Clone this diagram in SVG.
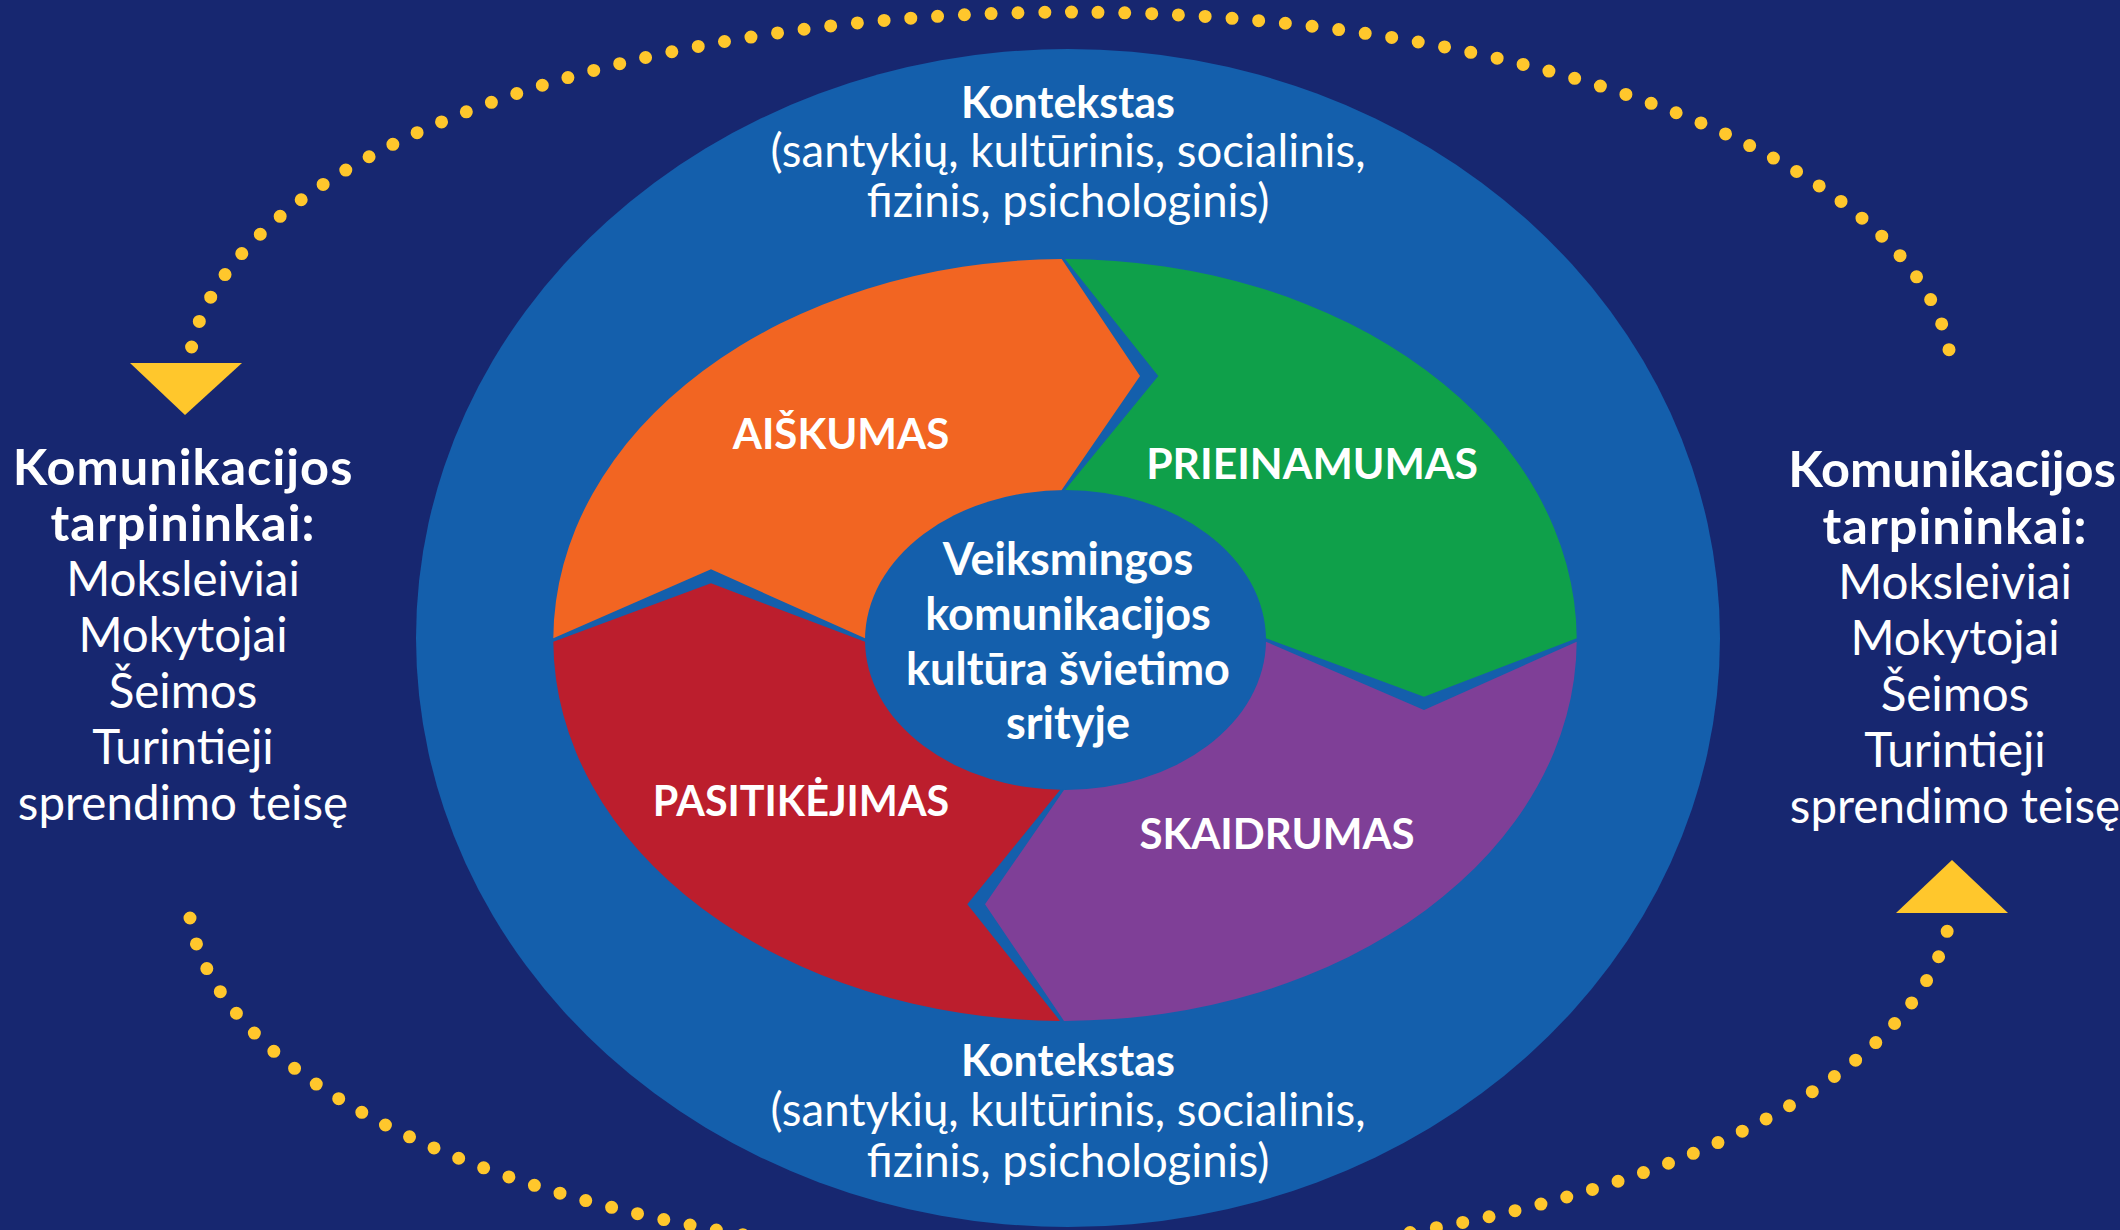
<svg xmlns="http://www.w3.org/2000/svg" width="2120" height="1230" viewBox="0 0 2120 1230">
  <style>
    .t { font-family: Lato, "Open Sans", sans-serif; fill: #ffffff; text-anchor: middle; }
    .b { font-weight: 700; }
    .r { font-weight: 400; }
    .side { font-size: 50.5px; letter-spacing: 1px; }
    .dots { fill: none; stroke: #FFC72C; stroke-width: 13; stroke-linecap: round; stroke-dasharray: 0 26.8; }
    .tri { fill: #FFC72C; }
  </style>
  <rect x="0" y="0" width="2120" height="1230" fill="#172770"/>

  <g id="connectors">
    <path class="dots" d="M 191.6 347 A 882 368 0 0 1 1949.8 354"/>
    <path class="dots" d="M 190 918 A 882 368 0 0 0 1948.6 925"/>
    <polygon class="tri" points="130,363 242,363 185,415"/>
    <polygon class="tri" points="1896,913 2008,913 1952,860"/>
  </g>

  <g id="context">
    <ellipse cx="1068" cy="638" rx="652" ry="589" fill="#145FAC"/>
    <text class="t" x="1068" y="118"><tspan class="b" x="1068" y="118" font-size="43">Kontekstas</tspan><tspan class="r" x="1068" y="167" font-size="45.5">(santykių, kultūrinis, socialinis,</tspan><tspan class="r" x="1068" y="217" font-size="45.5">fizinis, psichologinis)</tspan></text>
    <text class="t" x="1068" y="1076"><tspan class="b" x="1068" y="1076" font-size="43">Kontekstas</tspan><tspan class="r" x="1068" y="1126" font-size="45.5">(santykių, kultūrinis, socialinis,</tspan><tspan class="r" x="1068" y="1177" font-size="45.5">fizinis, psichologinis)</tspan></text>
  </g>

  <g id="aiskumas">
    <path fill="#F26522" d="M 553.3 638.3 A 512 381 0 0 1 1061.7 259.1 L 1140 376 L 1061.7 490 L 1061.7 638.3 L 865 638.3 L 711 569.3 Z"/>
    <text class="t b" x="841" y="449" font-size="42">AIŠKUMAS</text>
  </g>
  <g id="prieinamumas">
    <path fill="#0FA04A" d="M 1065 259.1 A 512 381 0 0 1 1576.7 638.3 L 1424 696.7 L 1266 638.3 L 1065 638.3 L 1065 490 L 1158.3 376 Z"/>
    <text class="t b" x="1312" y="479" font-size="42.7">PRIEINAMUMAS</text>
  </g>
  <g id="skaidrumas">
    <path fill="#7F3F97" d="M 1576.7 641.7 A 512 381 0 0 1 1064 1020.9 L 985 904.3 L 1064 790 L 1064 641.7 L 1266 641.7 L 1424 710 Z"/>
    <text class="t b" x="1277" y="849" font-size="42">SKAIDRUMAS</text>
  </g>
  <g id="pasitikejimas">
    <path fill="#BC1E2D" d="M 1060 1020.9 A 512 381 0 0 1 553.3 641.7 L 711 583.3 L 865 641.7 L 1060 641.7 L 1060 790 L 967.3 904.3 Z"/>
    <text class="t b" x="801" y="816" font-size="41.3">PASITIKĖJIMAS</text>
  </g>

  <g id="center">
    <ellipse cx="1065.5" cy="640" rx="200.5" ry="150" fill="#145FAC"/>
    <text class="t b" x="1068" y="575" font-size="45"><tspan x="1068" y="575">Veiksmingos</tspan><tspan x="1068" y="630">komunikacijos</tspan><tspan x="1068" y="685">kultūra švietimo</tspan><tspan x="1068" y="739">srityje</tspan></text>
  </g>

  <g id="left-label">
    <text class="t" x="183" y="485"><tspan class="b side" x="183" y="485">Komunikacijos</tspan><tspan class="b side" x="183" y="541">tarpininkai:</tspan><tspan class="r" x="183" y="596" font-size="47.5">Moksleiviai</tspan><tspan class="r" x="183" y="652" font-size="47.5">Mokytojai</tspan><tspan class="r" x="183" y="708" font-size="47.5">Šeimos</tspan><tspan class="r" x="183" y="764" font-size="47.5">Turintieji</tspan><tspan class="r" x="183" y="820" font-size="47.5">sprendimo teisę</tspan></text>
  </g>

  <g id="right-label">
    <text class="t" x="1955" y="487"><tspan class="b" x="1952" y="487" font-size="50.5">Komunikacijos</tspan><tspan class="b side" x="1955" y="544">tarpininkai:</tspan><tspan class="r" x="1955" y="599" font-size="47.5">Moksleiviai</tspan><tspan class="r" x="1955" y="655" font-size="47.5">Mokytojai</tspan><tspan class="r" x="1955" y="711" font-size="47.5">Šeimos</tspan><tspan class="r" x="1955" y="767" font-size="47.5">Turintieji</tspan><tspan class="r" x="1955" y="823" font-size="47.5">sprendimo teisę</tspan></text>
  </g>
</svg>
